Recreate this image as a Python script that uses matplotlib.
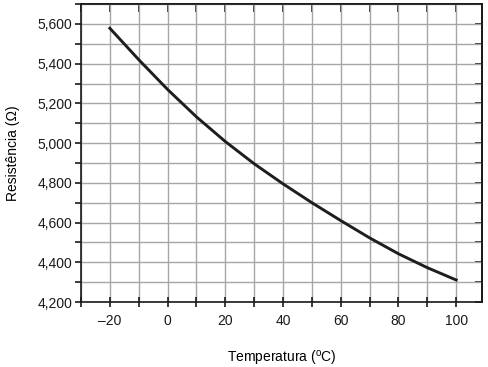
import matplotlib.pyplot as plt
from matplotlib.ticker import MultipleLocator, FuncFormatter, NullFormatter

# leitura aproximada da curva
temperatura = [-20, -10, 0, 10, 20, 30, 40, 50, 60, 70, 80, 90, 100]
resistencia = [5578, 5420, 5270, 5132, 5008, 4896, 4795, 4700, 4610, 4523, 4443, 4373, 4311]

x_label = "Temperatura ($^\\mathregular{o}$C)"
y_label = "Resistência (Ω)"

plt.rcParams['font.family'] = ['Liberation Sans', 'DejaVu Sans']
plt.rcParams['mathtext.fontset'] = 'custom'
plt.rcParams['mathtext.rm'] = 'Liberation Sans'

fig = plt.figure(figsize=(4.88, 3.67), dpi=100)
ax = fig.add_axes([0.166, 0.177, 0.822, 0.812])

ax.plot(temperatura, resistencia, color='#1e1e1e', lw=2.1, zorder=3,
        solid_joinstyle='round')

ax.set_xlim(-30, 109)
ax.set_ylim(4200, 5700)

ax.xaxis.set_major_locator(MultipleLocator(20))
ax.xaxis.set_minor_locator(MultipleLocator(10))
ax.yaxis.set_major_locator(MultipleLocator(200))
ax.yaxis.set_minor_locator(MultipleLocator(100))

ax.xaxis.set_major_formatter(FuncFormatter(lambda v, p: f"{int(v)}".replace('-', '\u2013')))
ax.yaxis.set_major_formatter(FuncFormatter(lambda v, p: f"{int(v):,}"))

ax.grid(True, which='both', color='#a6a6a6', lw=1.0, zorder=0)
ax.set_axisbelow(True)

for s in ax.spines.values():
    s.set_linewidth(1.2)
    s.set_color('#1a1a1a')

ax.tick_params(axis='x', which='both', direction='inout', length=7, width=1.2,
               labelsize=10, pad=5, colors='#1a1a1a')
ax.tick_params(axis='y', which='both', direction='out', length=4, width=1.2,
               labelsize=10, pad=2, colors='#1a1a1a')

# marcas para dentro em cima e na direita
top = ax.secondary_xaxis('top')
top.xaxis.set_major_locator(MultipleLocator(10))
top.xaxis.set_major_formatter(NullFormatter())
top.tick_params(direction='in', length=6, width=1.2, colors='#1a1a1a')
top.spines['top'].set_linewidth(1.2)

right = ax.secondary_yaxis('right')
right.yaxis.set_major_locator(MultipleLocator(100))
right.yaxis.set_major_formatter(NullFormatter())
right.tick_params(direction='in', length=5, width=1.2, colors='#1a1a1a')
right.spines['right'].set_linewidth(1.2)

ax.set_xlabel(x_label, fontsize=10, labelpad=15)
ax.set_ylabel(y_label, fontsize=10, labelpad=13)

fig.savefig('out.png', dpi=100)
